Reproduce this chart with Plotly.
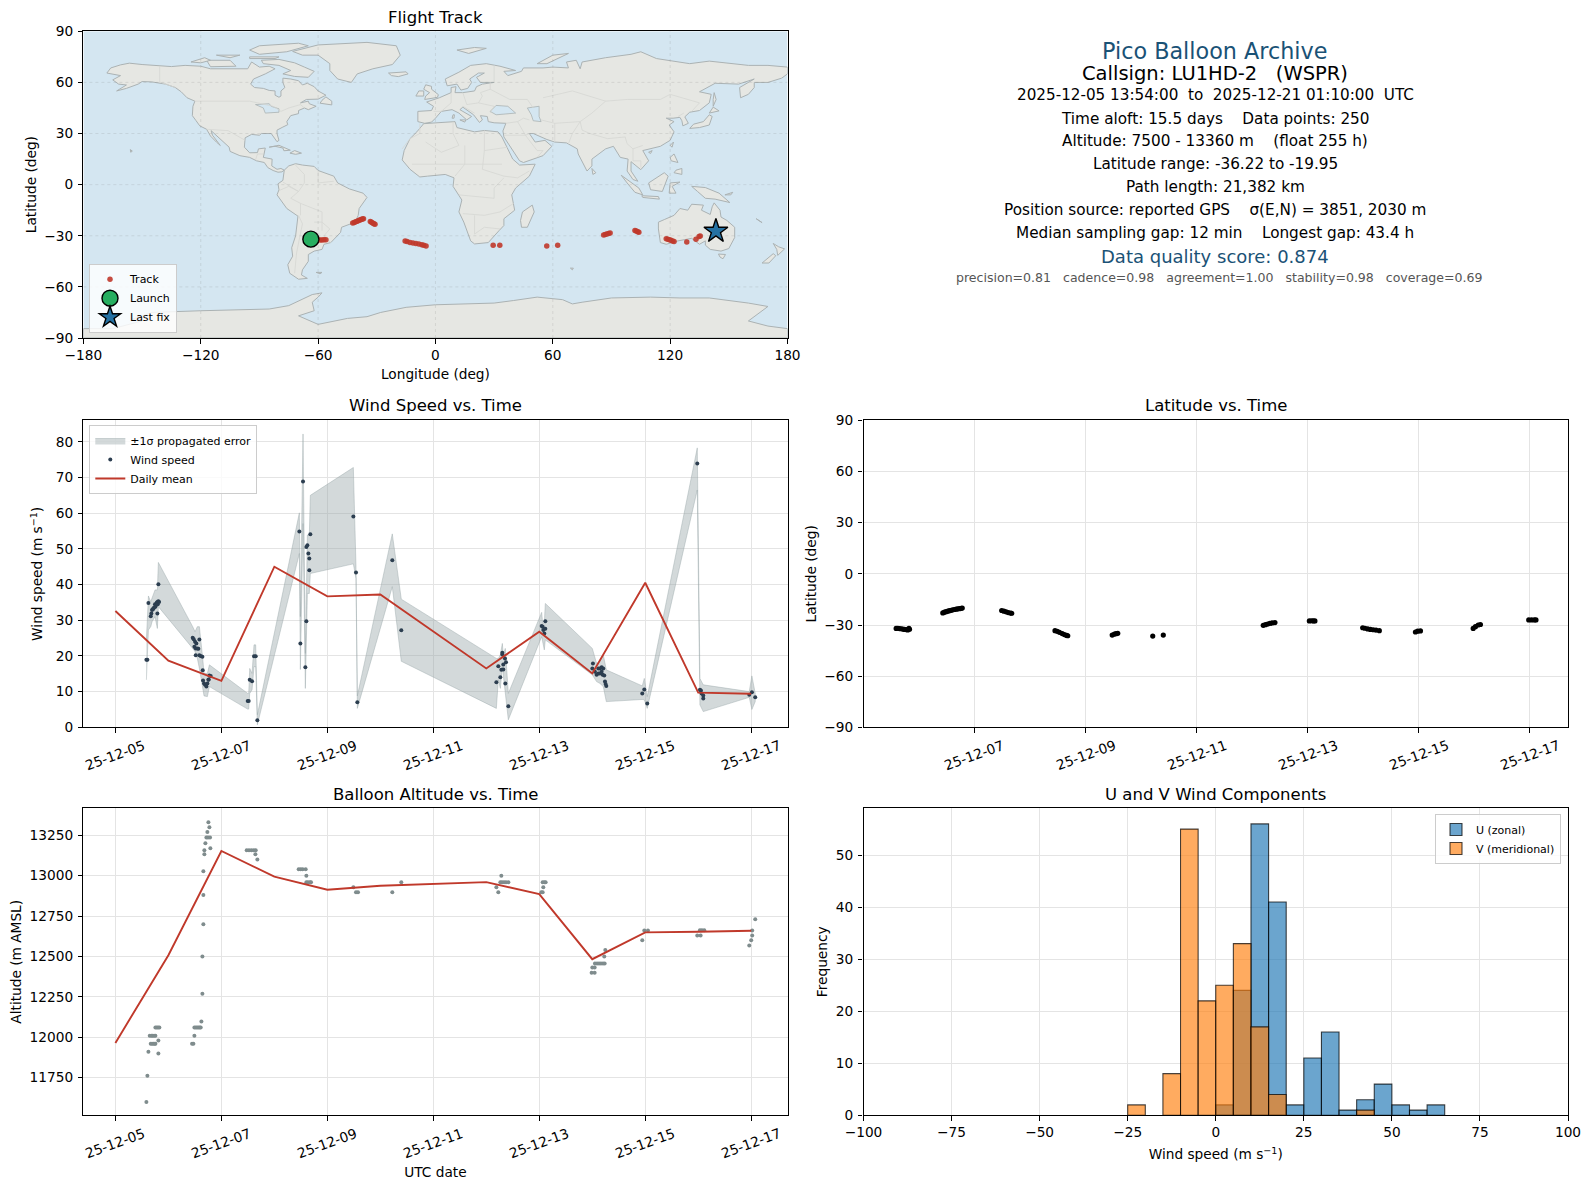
import pandas as pd
import plotly.graph_objects as go

FONT = "DejaVu Sans"
W, H = 1589, 1189

# ---------- world outline (lon, lat) ----------
north_america = [(-168,65.5),(-166,68.5),(-161,70.3),(-156.5,71.3),(-150,70.5),(-141,69.7),(-135,69.3),(-128,70),(-120,69.5),(-115,68),(-108,68),(-102,68),(-96,68),(-94,72),(-90,69),(-85,69.5),(-82,68),(-87,65),(-93,62),(-94.5,59),(-92.5,57),(-88,56.5),(-85,55.3),(-82,55),(-82,52.5),(-80,51.3),(-79,52),(-79,55),(-77,57),(-78,60),(-78,62.5),(-74,62),(-70,61),(-68,58.5),(-65.5,59.5),(-62,57.5),(-60,55),(-56,52.5),(-60,50.2),(-66,50),(-69,48),(-65,49),(-64.5,47.5),(-61,46),(-65,44),(-67,45),(-70,43.5),(-70,41.7),(-74,40.5),(-76,37),(-75.5,35.2),(-78,33.8),(-81,32),(-81,30),(-80,26),(-81,25.2),(-82.7,28),(-84,30),(-89,30),(-90,29),(-94,29.5),(-97.3,27.5),(-97.7,22),(-95,18.7),(-91,18.8),(-90.5,21),(-87,21.5),(-88,16),(-83.5,15),(-83.7,11),(-81,9),(-79,9.5),(-77.3,8.5),(-78.5,7.5),(-80.5,7.3),(-83,8.3),(-85.7,10),(-87.5,13),(-91.5,14),(-95,16),(-100,17),(-105,19.5),(-105.5,22),(-109,25.5),(-112.5,29.5),(-114.7,31.7),(-114,29),(-110,23),(-112,25),(-115,28.5),(-117,32.5),(-120.5,34.5),(-122.5,37.7),(-124.3,40.5),(-124,46),(-123,49),(-127,51),(-130,54.5),(-133,57),(-138,59),(-145,60.3),(-150,60.5),(-152,59),(-158,56.5),(-163,55),(-158,58.5),(-162,59),(-165,61.5),(-161,64),(-168,65.5)]
south_america = [(-77.3,8.5),(-75,11),(-71.5,12.3),(-68,11.5),(-62,10.7),(-60,8.3),(-52,5),(-50,1),(-44,-2.5),(-37,-5),(-35,-7.5),(-39,-14),(-39.5,-18),(-41,-22),(-48,-25),(-48.5,-28),(-53.5,-34),(-57,-35),(-58,-38),(-62,-39),(-65,-41),(-65,-45),(-68,-50),(-68.5,-53),(-65.5,-55),(-70,-55.5),(-74.5,-52),(-75.5,-47),(-73,-42),(-73.5,-37),(-71.5,-30),(-70.3,-18.5),(-76,-14),(-81,-6),(-80,-3),(-80.5,0.5),(-78,2.5),(-77.5,7),(-77.3,8.5)]
africa = [(-6,35.8),(10,37),(11,33.5),(20,31),(25,31.8),(32,31),(34,28),(37,21),(39.5,15),(43,11.5),(51,12),(48,5),(41,-2),(39,-6),(40.5,-15),(35,-20),(35,-24),(32.5,-27),(27,-34),(20,-34.8),(18,-33),(14.5,-22),(12,-16),(13.5,-9),(9,-1),(9.5,4),(5,6),(-4,5),(-8,4.5),(-13,9),(-17,14.5),(-16,20),(-13,27),(-9.5,31),(-6,35.8)]
eurasia = [(-9,37),(-9,43),(-2,43.5),(-1,46),(-4.5,48.5),(2,51),(8,54),(8,57),(10.5,57.5),(10,54),(14,54),(20,55),(21,57.5),(24,59),(30,60),(23,60),(21,63),(25,65.5),(22,65.5),(17.5,62),(18.5,60),(16.5,56.5),(13,55.5),(11,59),(6,58),(5,62),(12,66),(18,70),(26,71),(33,69.5),(41,67),(35,66.5),(37,64),(44,66.5),(45,68.5),(55,68.5),(60,69),(68,68.5),(67,72),(72,73),(74,68),(75,72),(87,74.5),(100,76.5),(105,78),(113,74),(130,71),(140,72.5),(160,70),(170,70),(180,69),(180,65),(177,62.5),(170,60),(163,60),(163,57),(160,53),(156,51),(155.5,57),(163,62),(155,59),(143,59.5),(135,54.5),(141,53),(140,48),(135,43.5),(130,42.5),(127.5,39.8),(129.3,36),(126.5,34.5),(126,37.5),(125,39.5),(121.5,39),(118,39),(122,37),(119.5,35),(122,31),(120,26),(115,22.5),(110,21),(106,20),(109,14),(106,10),(105,8.8),(100,13.5),(100,8),(103.5,2),(101,3),(98,8),(98.5,15),(94.5,16),(91,22.5),(87,21),(80,15),(80,11),(77.5,8),(73,18),(72.5,21),(67,24.5),(61,25),(57,26.5),(50,30),(48,30),(51,25),(56,26),(59.5,22.5),(55,17),(45,13),(43,14),(39,21),(35,28),(34.5,31.5),(36,36),(30,36.3),(27,37),(26.5,40),(23,40.5),(24,38),(22.5,36.5),(19.5,41),(14,45.5),(12.5,44),(18.5,40),(16,38),(12,42),(8.5,44),(3,43),(0,39),(-2,36.7),(-5.5,36),(-9,37)]
australia = [(114,-22),(114,-26),(115,-34),(118,-35),(124,-33),(131,-31.5),(135,-35),(138,-33),(138,-35.5),(140.5,-38),(146,-39),(150,-37.5),(153,-31),(153,-25),(149,-21),(146,-19),(145.5,-15),(142.5,-10.7),(141.5,-13),(140.5,-17.5),(136,-15),(137,-12),(131,-11.5),(129,-15),(125,-14),(122,-18),(117,-20.5),(114,-22)]
antarctica = [(-180,-90),(-180,-84.5),(-165,-84.5),(-150,-80),(-155,-79),(-145,-75),(-120,-74),(-100,-73.5),(-85,-73),(-75,-71),(-68,-67),(-63,-64.5),(-58,-63.5),(-60,-66),(-63,-69),(-62,-74),(-70,-77),(-60,-82),(-45,-78.5),(-35,-77.5),(-28,-75),(-15,-72),(0,-70.5),(15,-70),(30,-69.5),(40,-68),(52,-66),(65,-67.5),(70,-70),(75,-69),(90,-66.5),(110,-66),(125,-66.5),(140,-66.5),(160,-69.5),(170,-71.5),(165,-76),(160,-80),(170,-83),(180,-84.5),(180,-90),(-180,-90)]
greenland = [(-73,78.2),(-60,82),(-35,83.5),(-20,81.5),(-18,76),(-22,70.5),(-32,68),(-40,65),(-43,60),(-50,62),(-54,67),(-54,71),(-60,76),(-68,76),(-73,78.2)]
islands = [
    [(-80,73.5),(-72,71.5),(-67,69),(-62,66.5),(-65,63),(-72,63.5),(-78,65),(-74,67),(-80,70),(-88,71),(-89,73),(-80,73.5)],
    [(-117,73),(-105,73),(-102,69.5),(-115,69.2),(-117,73)],
    [(-90,76.5),(-76,78),(-65,81.5),(-70,83),(-90,81.5),(-95,79),(-90,76.5)],
    [(-125,72),(-118,74.5),(-115,73),(-120,71.5),(-125,72)],
    [(-95,75),(-80,75),(-82,74),(-95,74),(-95,75)],
    [(-112,76),(-100,76),(-105,74.5),(-112,76)],
    [(-59,47.8),(-53,46.8),(-53,49),(-56,51.5),(-58,49.5),(-59,47.8)],
    [(-85,22),(-80,23.1),(-74.2,20.2),(-77.5,19.9),(-78,21.5),(-82,22.5),(-85,22)],
    [(-74.4,18.5),(-72,20),(-68.5,18.5),(-71.5,17.8),(-74.4,18.5)],
    [(-156,20.6),(-155,19.7),(-155.8,19),(-156,20.6)],
    [(-61,-51.5),(-58,-51.5),(-59,-52.3),(-61,-51.5)],
    [(-5.5,50),(1,51.2),(1.5,52.8),(-2,56),(-2,57.7),(-5,58.6),(-6,56),(-3,54),(-5,52),(-5.5,50)],
    [(-10,52),(-6,52),(-6,55),(-8.5,55),(-10,52)],
    [(-24,65.5),(-15,66.2),(-14,65),(-19,63.4),(-22.5,64),(-24,65.5)],
    [(11,79),(20,80.5),(26,80),(17,77),(11,79)],
    [(52,71),(57,71),(68,77),(60,76),(52,71)],
    [(130,33),(135,33.5),(140,35),(141.5,40),(140,41),(137,37),(132,35.5),(130,33)],
    [(140,42),(145,43.3),(142,45.5),(140,42)],
    [(142,46),(143.5,50),(142.5,54),(142,50),(142,46)],
    [(120,23),(121.7,25),(121,22),(120,23)],
    [(109,19),(110.8,20),(110,18.3),(109,19)],
    [(120,16),(122,18),(124,13),(120.5,14),(120,16)],
    [(122,7),(126,6),(126,9.5),(123,8.5),(122,7)],
    [(109,1),(114,4.5),(117,7),(119,5),(117.5,1),(116,-4),(110,-3),(109,1)],
    [(95,5.5),(104,-2),(106,-6),(102,-4.5),(98,1),(95,5.5)],
    [(105.5,-6.5),(114,-7),(114.5,-8.5),(106,-7.5),(105.5,-6.5)],
    [(119.5,-5),(120,1),(125,1.5),(121,-1),(123,-5),(119.5,-5)],
    [(131,-1),(138,-1.7),(145,-5),(150.5,-10.5),(143,-8.5),(138,-8),(134,-4),(131,-1)],
    [(49.5,-12),(50.5,-16),(47,-25),(44,-25),(43.5,-21),(44.5,-16),(49.5,-12)],
    [(80,9.5),(82,7),(80.5,6),(80,9.5)],
    [(144.7,-40.7),(148.3,-41),(147,-43.5),(145.5,-42.5),(144.7,-40.7)],
    [(172.7,-34.5),(175.5,-36.5),(178.5,-37.7),(175,-41.5),(174.5,-38),(172.7,-34.5)],
    [(172.7,-40.5),(174,-41.7),(170.5,-46),(167,-46),(172.7,-40.5)],
    [(164,-20),(167,-22.3),(166,-22),(164,-20)],
    [(69,-49),(70.5,-49),(70,-50),(69,-49)],
    [(148,-6),(152,-4.5),(151,-6),(148,-6)],
    [(9,41),(9.7,41),(9.5,39),(8.5,39),(9,41)],
    [(12.5,38),(15.5,38),(15,36.7),(12.5,38)],
]
inland_seas = [
    [(28,43),(31,46.5),(37,46),(41,42),(36,41.5),(31,41),(28,43)],
    [(47,45),(53,46),(53,40),(54,37),(50,37.5),(49,41),(47,45)],
    [(-92,47),(-85,47.5),(-84,46),(-80,44.5),(-80,42.5),(-87,42),(-88,45),(-92,47)],
]
borders = [
    [(-123,49),(-95,49),(-83,46),(-79,43),(-75,45),(-69,47),(-67,45)],
    [(-141,69.7),(-141,60.3),(-133,57)],
    [(-117,32.5),(-106,31.7),(-97.3,26)],
    [(-92,14.5),(-91,18),(-88,18)],
    [(-72,12),(-67,6),(-67,1),(-70,-4),(-74,-8),(-69,-11),(-58,-16),(-58,-22),(-54,-26),(-57,-30),(-53.5,-34)],
    [(-78,1.5),(-70,-4)],[(-80,-3.5),(-75,-1),(-70,-4)],[(-70,-18),(-68,-23),(-71,-40),(-72,-52)],
    [(-60,8),(-60,1),(-52,2)],[(-69,-11),(-69,-18)],[(-62,-22),(-58,-22),(-58,-27)],
    [(-8,36),(-8,30),(-13,27),(-17,21)],[(9,37),(9,30),(12,23),(3,19),(-5,25)],[(25,31.8),(25,20),(37,22)],
    [(15,23),(15,12),(10,5)],[(25,20),(24,9),(35,5),(42,4),(48,8)],[(12,-6),(30,-8),(30,-2),(35,4)],
    [(14,-17),(25,-18),(33,-16),(40,-11)],[(20,-29),(20,-18)],[(33,-26),(25,-25),(20,-29)],[(-12,12),(3,12),(15,12),(24,12),(34,12)],
    [(-1,43),(3,43),(8,48),(8,54)],[(14,54),(16,47),(22,48),(24,52),(23,54),(28,56),(28,60)],[(22,48),(30,46),(28,42)],[(14,46),(20,42)],
    [(30,70),(30,60)],[(28,56),(38,50),(47,50),(50,45)],[(55,51),(70,55),(87,49),(98,50),(115,50),(120,53),(135,48),(131,43)],
    [(87,49),(80,42),(74,37),(75,32),(79,30),(88,27),(97,28),(98,24),(101,21),(106,23)],[(74,37),(61,36),(61,25)],[(61,36),(54,38)],
    [(74,37),(70,30),(68,24)],[(36,36),(42,37),(45,39),(48,38)],[(42,37),(46,29),(48,30)],[(35,29),(46,29),(52,20),(55,20),(52,16)],[(101,21),(101,14),(105,14),(105,10)],[(127,42),(124,40)],
]

# ---------- flight track on the map ----------
track_lon = [-60,-59,-58,-57,-56,-42.3,-41.5,-40.8,-40,-39.3,-38.6,-38,-37.4,-36.8,-33.3,-32.7,-32.1,-31.5,-30.9,-15.5,-14.5,-13,-11.5,-10,-8.5,-7,-6,-4.8,29.5,32.9,56.9,62.5,86,86.8,87.6,88.5,89.3,102,102.7,103.4,104,118,118.8,119.6,120.4,121.2,122,128.5,133.2,134.8,135.4]
track_lat = [-32.4,-32.5,-32.5,-32.4,-32.3,-22.5,-22.2,-21.8,-21.5,-21.1,-20.7,-20.4,-20.2,-20,-21.6,-22,-22.5,-23,-23.3,-33,-33.4,-33.9,-34.3,-34.6,-34.9,-35.2,-35.5,-36,-35.5,-35.5,-36,-35.5,-29.6,-29.3,-29,-28.7,-28.4,-26.9,-27.2,-27.6,-28,-31.8,-32.1,-32.4,-32.6,-33,-33.3,-33.7,-32,-30.5,-30.2]
launch_lon, launch_lat = [-63.7], [-32.0]
last_lon, last_lat = [143.4], [-27.3]
map_xticks = [-180,-120,-60,0,60,120,180]
map_yticks = [-90,-60,-30,0,30,60,90]

# ---------- time series (days after 2025-12-05 00:00 UTC) ----------
START = pd.Timestamp("2025-12-05")
wind_day = [.585,.604,.623,.667,.679,.692,.704,.717,.730,.748,.755,.767,.780,.792,.799,.811,.824,.792,.811,
            1.459,1.478,1.503,1.528,1.491,1.516,1.547,1.566,1.585,1.516,1.585,1.610,1.642,1.648,1.654,1.673,1.692,1.717,1.736,1.755,1.774,1.799,1.761,
            2.497,2.516,2.535,2.579,2.616,2.648,2.679,3.472,3.491,3.541,3.585,3.604,3.604,3.623,3.642,3.660,3.660,3.679,4.491,4.541,4.566,5.226,5.396,
            7.190,7.227,7.265,7.284,7.303,7.303,7.321,7.321,7.353,7.372,7.359,7.416,8.045,8.064,8.076,8.095,8.114,8.114,
            9.013,9.001,9.051,9.082,9.114,9.145,9.177,9.208,9.196,9.227,9.240,9.252,9.265,9.114,9.145,9.177,
            9.944,9.982,10.038,10.982,11.032,11.051,11.064,11.095,11.095,11.963,12.013,12.076]
wind_speed = [18.9,18.9,34.8,31.1,31.9,32.9,33.1,33.2,33.6,34.5,33.8,34.3,34.9,35.1,34.5,35.3,35.1,31.9,40.1,
              25.1,24.7,24.0,23.5,22.6,22.1,22.1,22.0,24.6,20.2,20.2,20.0,19.8,16.0,13.1,12.3,11.9,11.4,12.3,13.3,14.5,14.4,13.4,
              7.4,7.4,13.3,12.9,19.9,19.9,2.0,54.9,23.5,68.9,16.8,29.7,50.5,51.0,48.7,47.3,44.0,54.1,59.1,43.4,7.0,46.8,27.2,
              12.6,17.1,14.0,16.1,20.9,20.4,16.2,17.6,19.3,18.2,12.3,5.9,28.4,28.2,27.3,26.3,27.6,29.7,
              17.9,16.5,15.6,14.7,15.1,16.5,15.6,16.5,14.7,14.5,12.8,12.1,11.6,16.5,15.1,16.8,
              9.5,10.6,6.7,73.9,10.5,10.3,9.5,8.9,8.1,9.1,9.8,8.4]
band_day = [.585,.623,.667,.692,.748,.792,.811,1.459,1.503,1.547,1.585,1.648,1.673,1.736,1.774,2.497,2.516,2.535,2.579,2.616,2.648,2.679,3.472,3.491,3.541,3.585,3.604,3.623,3.660,3.679,4.491,4.541,4.566,5.226,5.396,
            7.190,7.227,7.265,7.303,7.321,7.359,7.416,8.045,8.064,8.095,8.114,9.001,9.019,9.082,9.145,9.208,9.265,9.944,9.982,10.038,10.982,11.032,11.095,11.963,12.013,12.076]
band_high = [24.5,36.8,35.2,36.1,38.5,38.5,46.2,28.2,26.8,28.2,28.2,19.3,15.1,15.1,17.5,9.5,9.5,16.5,15.1,23.1,23.1,3.5,60.1,31.0,82.2,20.7,33.0,53.9,53.9,65.0,72.8,45.0,8.8,54.2,35.9,
             19.3,19.3,20.3,23.5,20.3,22.1,9.5,32.2,29.1,29.1,34.7,22.1,21.2,17.9,18.4,20.3,16.1,11.6,13.7,8.6,78.3,13.7,11.9,10.0,14.4,9.5]
band_low = [13.3,27.3,28.2,29.6,31.0,27.7,33.8,22.1,21.2,19.3,16.5,11.4,8.8,8.6,11.4,5.1,5.1,9.5,10.5,17.0,17.0,0.7,48.7,16.2,57.1,10.9,26.0,37.5,37.5,43.1,45.8,41.7,5.3,39.4,18.5,
            5.3,13.3,10.9,17.0,15.1,9.1,2.1,25.4,24.0,21.7,24.5,14.7,14.2,12.8,12.3,11.4,7.2,7.8,7.7,5.3,66.5,6.3,4.4,8.4,5.0,7.2]
mean_day = [0,1,2,3,4,5,7,8,9,10,11,12]
mean_wind = [32.6,18.7,13.0,45.0,36.7,37.2,16.5,26.8,15.1,40.5,9.7,9.4]
mean_alt = [11965,12508,13153,12994,12913,12938,12960,12886,12483,12649,12653,12659]

lat_day = [.59,.62,.65,.68,.71,.74,.77,.80,.83,.82,
           1.43,1.46,1.49,1.52,1.55,1.58,1.61,1.64,1.67,1.70,1.73,1.76,1.78,
           2.49,2.53,2.57,2.61,2.65,2.67,3.45,3.49,3.53,3.58,3.62,3.66,3.68,4.48,4.52,4.55,4.58,5.21,5.40,
           7.20,7.24,7.28,7.32,7.36,7.41,8.03,8.07,8.10,8.13,8.99,9.03,9.08,9.13,9.18,9.23,9.29,9.94,9.98,10.03,
           10.98,11.02,11.07,11.11,11.98,12.03,12.08,12.11]
lat_deg = [-32,-31.9,-32.1,-32.2,-32.4,-32.6,-32.7,-32.9,-32.5,-32,
           -22.9,-22.5,-22.2,-21.9,-21.6,-21.4,-21.1,-20.9,-20.7,-20.5,-20.4,-20.2,-20.1,
           -21.5,-21.9,-22.3,-22.7,-23,-23.1,-33.3,-33.7,-34.3,-35,-35.6,-36.1,-36.3,-35.9,-35.3,-35.1,-34.9,-36.5,-35.9,
           -30.2,-29.8,-29.4,-29.1,-28.8,-28.6,-27.6,-27.5,-27.6,-27.6,-31.6,-31.9,-32.3,-32.6,-32.8,-33,-33.3,-34.1,-33.6,-33.5,
           -32,-31,-30,-29.7,-27,-27,-27,-27]

alt_day = [.585,.604,.623,.667,.692,.717,.742,.755,.648,.679,.704,.730,.755,.755,.780,.805,.830,.811,.811,
           1.447,1.472,1.491,1.491,1.516,1.541,1.566,1.591,1.61,1.623,1.642,1.642,1.660,1.660,1.660,1.679,1.679,1.698,1.717,1.748,1.786,1.736,1.774,1.755,1.792,
           2.478,2.522,2.566,2.61,2.648,2.642,2.679,3.459,3.497,3.535,3.591,3.604,3.604,3.635,3.673,3.692,4.491,4.541,4.579,5.226,5.396,
           7.284,7.265,7.296,7.334,7.372,7.417,7.190,7.227,8.064,8.095,8.12,8.076,8.038,8.064,
           8.988,9.045,9.001,9.045,9.051,9.089,9.127,9.164,9.202,9.234,9.227,9.246,
           9.982,10.051,9.944,11.032,11.07,11.114,10.982,11.045,11.963,12.0,12.019,12.019,12.076]
alt_m = [11600,11762,11911,11960,11960,11960,11960,11960,12010,12010,12010,12010,12010,12060,12060,12060,12060,11980,11900,
         11960,11960,12010,12060,12060,12060,12060,12060,12060,12097,12270,12500,12700,12880,13027,13132,13157,13200,13237,13237,13237,13270,13300,13330,13170,
         13157,13157,13157,13157,13157,13132,13100,13040,13040,13040,13040,13000,12960,12960,12960,12960,12928,12897,12897,12897,12960,
         13000,12960,12960,12960,12960,12960,12928,12897,12960,12960,12960,12928,12897,12897,
         12400,12400,12432,12432,12457,12457,12457,12457,12457,12457,12500,12540,
         12661,12661,12600,12663,12663,12663,12630,12630,12568,12600,12630,12661,12730]

date_ticks_left = ["2025-12-05","2025-12-07","2025-12-09","2025-12-11","2025-12-13","2025-12-15","2025-12-17"]
date_ticks_right = date_ticks_left[1:]
wind_yticks = [0,10,20,30,40,50,60,70,80]
lat_yticks = [-90,-60,-30,0,30,60,90]
alt_yticks = [11750,12000,12250,12500,12750,13000,13250]

# ---------- histogram ----------
bin_width = 5
u_bins = [2.5,7.5,12.5,17.5,22.5,27.5,32.5,37.5,42.5,47.5,52.5,57.5,62.5]
u_counts = [2,24,56,41,2,11,16,1,3,6,2,1,2]
v_bins = [-22.5,-12.5,-7.5,-2.5,2.5,7.5,12.5,17.5,42.5]
v_counts = [2,8,55,22,25,33,17,4,1]
hist_xticks = [-100,-75,-50,-25,0,25,50,75,100]
hist_yticks = [0,10,20,30,40,50]

# ---------- info panel ----------
info_lines = [
    ("Pico Balloon Archive", 22.3, "#1a5276", 51, 1214.7),
    ("Callsign: LU1HD-2   (WSPR)", 19.5, "black", 73.5, 1214.7),
    ("2025-12-05 13:54:00  to  2025-12-21 01:10:00  UTC", 15.2, "black", 95.5, 1215),
    ("Time aloft: 15.5 days    Data points: 250", 15.25, "black", 118.5, 1215),
    ("Altitude: 7500 - 13360 m    (float 255 h)", 15.25, "black", 141, 1215),
    ("Latitude range: -36.22 to -19.95", 15.25, "black", 163.5, 1215),
    ("Path length: 21,382 km", 15.25, "black", 187, 1215),
    ("Position source: reported GPS    σ(E,N) = 3851, 2030 m", 15.25, "black", 210, 1214.7),
    ("Median sampling gap: 12 min    Longest gap: 43.4 h", 15.25, "black", 233, 1215),
    ("Data quality score: 0.874", 18, "#1a5276", 256.5, 1214.7),
    ("precision=0.81   cadence=0.98   agreement=1.00   stability=0.98   coverage=0.69", 12.55, "#555555", 278, 1219),
]

# ---------- colours ----------
OCEAN = "#d4e6f1"; LAND = "#e6e7e3"; COAST = "#abb2b3"; BORDER = "#d6d7d3"
RED = "#c0392b"; NAVY = "#2c3e50"; GREY = "#7f8c8d"; GRID = "#e4e4e4"

# ---------- axes in page pixels ----------
LX0, LX1, RX0, RX1 = 83.4, 787.5, 863.5, 1568
R1 = (31.3, 338.0); R2 = (420.4, 727.3); R3 = (808.3, 1115.3)
dx = lambda a, b: [a / W, b / W]
dy = lambda r: [1 - r[1] / H, 1 - r[0] / H]
px = lambda v: v / W
py = lambda v: 1 - v / H
days = lambda seq: START + pd.to_timedelta(seq, unit="D")
day_str = lambda d: (START + pd.Timedelta(days=d)).strftime("%Y-%m-%d %H:%M:%S")

fig = go.Figure()

# map: each landmass is its own filled trace
land = [antarctica, north_america, south_america, africa, eurasia, australia, greenland] + islands
for poly in land:
    fig.add_trace(go.Scatter(x=[q[0] for q in poly], y=[q[1] for q in poly], mode="lines", fill="toself", fillcolor=LAND,
                             line=dict(color=COAST, width=1), showlegend=False, hoverinfo="skip", xaxis="x", yaxis="y"))
for poly in inland_seas:
    fig.add_trace(go.Scatter(x=[q[0] for q in poly], y=[q[1] for q in poly], mode="lines", fill="toself", fillcolor=OCEAN,
                             line=dict(color=COAST, width=0.8), showlegend=False, hoverinfo="skip", xaxis="x", yaxis="y"))
for line in borders:
    fig.add_trace(go.Scatter(x=[q[0] for q in line], y=[q[1] for q in line], mode="lines", line=dict(color=BORDER, width=0.8),
                             showlegend=False, hoverinfo="skip", xaxis="x", yaxis="y"))
fig.add_trace(go.Scatter(x=track_lon, y=track_lat, mode="markers", name="Track", legend="legend",
                         marker=dict(color=RED, size=5.5, opacity=0.9), xaxis="x", yaxis="y"))
fig.add_trace(go.Scatter(x=launch_lon, y=launch_lat, mode="markers", name="Launch", legend="legend",
                         marker=dict(color="#27ae60", size=16, line=dict(color="black", width=1.4)), xaxis="x", yaxis="y"))
fig.add_trace(go.Scatter(x=last_lon, y=last_lat, mode="markers", name="Last fix", legend="legend",
                         marker=dict(color="#2471a3", size=18, symbol="star", line=dict(color="black", width=1.4)), xaxis="x", yaxis="y"))

# wind
fig.add_trace(go.Scatter(x=list(days(band_day)) + list(days(band_day[::-1])), y=band_high + band_low[::-1],
                         mode="lines", line=dict(color="rgba(149,165,166,0.42)", width=1), fill="toself",
                         fillcolor="rgba(149,165,166,0.42)", name="±1σ propagated error",
                         legend="legend2", xaxis="x2", yaxis="y2"))
fig.add_trace(go.Scatter(x=days(wind_day), y=wind_speed, mode="markers", name="Wind speed", legend="legend2",
                         marker=dict(color=NAVY, size=4), xaxis="x2", yaxis="y2"))
fig.add_trace(go.Scatter(x=days(mean_day), y=mean_wind, mode="lines", name="Daily mean", legend="legend2",
                         line=dict(color=RED, width=1.9), xaxis="x2", yaxis="y2"))

# latitude
fig.add_trace(go.Scatter(x=days(lat_day), y=lat_deg, mode="markers", marker=dict(color="black", size=5.2),
                         showlegend=False, xaxis="x3", yaxis="y3"))

# altitude
fig.add_trace(go.Scatter(x=days(alt_day), y=alt_m, mode="markers", marker=dict(color=GREY, size=4),
                         showlegend=False, xaxis="x4", yaxis="y4"))
fig.add_trace(go.Scatter(x=days(mean_day), y=mean_alt, mode="lines", line=dict(color=RED, width=1.9),
                         showlegend=False, xaxis="x4", yaxis="y4"))

# histogram
edge = dict(color="rgba(0,0,0,0.72)", width=1.1)
fig.add_trace(go.Bar(x=u_bins, y=u_counts, width=bin_width, name="U (zonal)", legend="legend3",
                     marker=dict(color="rgba(31,119,180,0.66)", line=edge), xaxis="x5", yaxis="y5"))
fig.add_trace(go.Bar(x=v_bins, y=v_counts, width=bin_width, name="V (meridional)", legend="legend3",
                     marker=dict(color="rgba(255,127,14,0.66)", line=edge), xaxis="x5", yaxis="y5"))

tick = dict(size=13.7, family=FONT, color="black")
lab = dict(size=13.7, family=FONT, color="black")
common = dict(showline=True, mirror=True, linecolor="black", linewidth=1.1, ticks="outside", ticklen=4.5, tickwidth=1,
              tickcolor="black", tickfont=tick, zeroline=False, layer="above traces", gridcolor=GRID, gridwidth=1, automargin=False)

def time_range(a, b):
    return [day_str(a), day_str(b)]

layout_axes = dict(
    xaxis=dict(domain=dx(LX0, LX1), anchor="y", range=[-180, 180], tickvals=map_xticks, showgrid=False,
               title=dict(text="Longitude (deg)", font=lab, standoff=7), **common),
    yaxis=dict(domain=dy(R1), anchor="x", range=[-90, 90], tickvals=map_yticks, showgrid=False, ticklabelstandoff=2,
               title=dict(text="Latitude (deg)", font=lab, standoff=4), **common),
    xaxis2=dict(domain=dx(LX0, LX1), anchor="y2", type="date", range=time_range(-0.604, 12.685), tickvals=date_ticks_left,
                showticklabels=False, showgrid=True, **common),
    yaxis2=dict(domain=dy(R2), anchor="x2", range=[0, 86], tickvals=wind_yticks, showgrid=True, ticklabelstandoff=2,
                title=dict(text="Wind speed (m s<sup>−1</sup>)", font=lab, standoff=9), **common),
    xaxis3=dict(domain=dx(RX0, RX1), anchor="y3", type="date", range=time_range(0.002, 12.687), tickvals=date_ticks_right,
                showticklabels=False, showgrid=True, **common),
    yaxis3=dict(domain=dy(R2), anchor="x3", range=[-90, 90], tickvals=lat_yticks, showgrid=True, ticklabelstandoff=2,
                title=dict(text="Latitude (deg)", font=lab, standoff=4), **common),
    xaxis4=dict(domain=dx(LX0, LX1), anchor="y4", type="date", range=time_range(-0.604, 12.685), tickvals=date_ticks_left,
                showticklabels=False, showgrid=True, title=dict(text="UTC date", font=lab, standoff=47), **common),
    yaxis4=dict(domain=dy(R3), anchor="x4", range=[11517, 13417], tickvals=alt_yticks, tickformat="d", showgrid=True, ticklabelstandoff=2,
                title=dict(text="Altitude (m AMSL)", font=lab, standoff=4), **common),
    xaxis5=dict(domain=dx(RX0, RX1), anchor="y5", range=[-100, 100], tickvals=hist_xticks, showgrid=True,
                title=dict(text="Wind speed (m s<sup>−1</sup>)", font=lab, standoff=10), **common),
    yaxis5=dict(domain=dy(R3), anchor="x5", range=[0, 59], tickvals=hist_yticks, showgrid=True, ticklabelstandoff=2,
                title=dict(text="Frequency", font=lab, standoff=4), **common),
)

annotations = []
# subplot titles
for text, cx, cy in [("Flight Track", (LX0 + LX1) / 2, 18), ("Wind Speed vs. Time", (LX0 + LX1) / 2, 405.5),
                     ("Latitude vs. Time", (RX0 + RX1) / 2, 405.5), ("Balloon Altitude vs. Time", (LX0 + LX1) / 2, 794.5),
                     ("U and V Wind Components", (RX0 + RX1) / 2, 794.5)]:
    annotations.append(dict(text=text, x=px(cx), y=py(cy), xref="paper", yref="paper", showarrow=False,
                            xanchor="center", yanchor="middle", font=dict(size=16.5, family=FONT, color="black")))
# rotated date tick labels, centred under their ticks
for xname, ticks, bottom in [("x2", date_ticks_left, R2[1]), ("x3", date_ticks_right, R2[1]), ("x4", date_ticks_left, R3[1])]:
    for t in ticks:
        annotations.append(dict(text=t[2:], x=t, y=py(bottom + 28), xref=xname, yref="paper", showarrow=False, textangle=-20,
                                xanchor="center", yanchor="middle", font=tick))
# info panel
for text, size, colour, cy, cx in info_lines:
    annotations.append(dict(text=text.replace("  ", "&nbsp;&nbsp;"), x=px(cx), y=py(cy), xref="paper", yref="paper", showarrow=False,
                            xanchor="center", yanchor="middle", font=dict(size=size, family=FONT, color=colour)))

shapes = [dict(type="rect", xref="x", yref="y", x0=-180, x1=180, y0=-90, y1=90, fillcolor=OCEAN, line_width=0, layer="below")]
for v in map_xticks[1:-1]:
    shapes.append(dict(type="line", xref="x", yref="y", x0=v, x1=v, y0=-90, y1=90, layer="above",
                       line=dict(color="rgba(120,120,120,0.22)", width=0.8, dash="dot")))
for v in map_yticks[1:-1]:
    shapes.append(dict(type="line", xref="x", yref="y", x0=-180, x1=180, y0=v, y1=v, layer="above",
                       line=dict(color="rgba(120,120,120,0.22)", width=0.8, dash="dot")))

leg = dict(bgcolor="rgba(255,255,255,0.82)", bordercolor="#cccccc", borderwidth=1,
           font=dict(size=11, family=FONT, color="black"), itemclick=False, itemdoubleclick=False)

fig.update_layout(
    width=W, height=H, margin=dict(l=0, r=0, t=0, b=0), paper_bgcolor="white", plot_bgcolor="white",
    font=dict(family=FONT, color="black"), barmode="overlay", annotations=annotations, shapes=shapes, hovermode=False,
    legend=dict(x=px(89), y=py(332.7), xanchor="left", yanchor="bottom", itemsizing="trace", tracegroupgap=0, **leg),
    legend2=dict(x=px(89.3), y=py(425), xanchor="left", yanchor="top", **leg),
    legend3=dict(x=px(1561), y=py(814), xanchor="right", yanchor="top", **leg),
    **layout_axes,
)
fig.write_html("out.html", config={"displayModeBar": False}, post_script="document.body.style.margin='0';")
